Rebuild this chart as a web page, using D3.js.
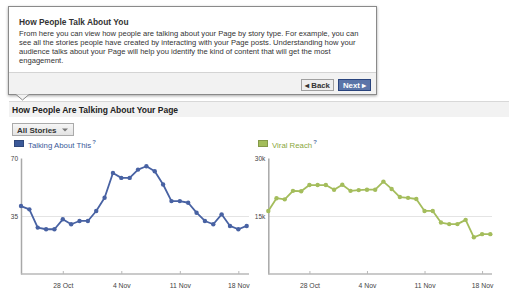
<!DOCTYPE html>
<html><head><meta charset="utf-8">
<script src="https://cdn.jsdelivr.net/npm/d3@7"></script>
<style>html,body{margin:0;padding:0;background:#fff;}svg{display:block;font-family:"Liberation Sans",Arial,sans-serif;}</style>
</head><body>
<script>
const dates = ["2012-10-23","2012-10-24","2012-10-25","2012-10-26","2012-10-27","2012-10-28","2012-10-29","2012-10-30","2012-10-31","2012-11-01","2012-11-02","2012-11-03","2012-11-04","2012-11-05","2012-11-06","2012-11-07","2012-11-08","2012-11-09","2012-11-10","2012-11-11","2012-11-12","2012-11-13","2012-11-14","2012-11-15","2012-11-16","2012-11-17","2012-11-18","2012-11-19"];
const talkingAboutThis = [41,39,28,27,27,33,30,32,32,38,46,61,58,58,63,65,62,54,44,44,43,37,32,30,36,29,27,29];
const viralReach = [16300,19600,19300,21500,21400,23000,23000,23000,21800,23100,21500,21700,21800,21800,23900,22000,19900,19700,19400,16300,16300,13300,12900,12900,14000,9500,10300,10300];
const tickDates = ["2012-10-28","2012-11-04","2012-11-11","2012-11-18"];
const tickLabels = ["28 Oct","4 Nov","11 Nov","18 Nov"];
const leftYTicks = [35,70];
const leftYLabels = ["35","70"];
const rightYTicks = [15000,30000];
const rightYLabels = ["15k","30k"];
const bodyLines = [
 "From here you can view how people are talking about your Page by story type. For example, you can",
 "see all the stories people have created by interacting with your Page posts. Understanding how your",
 "audience talks about your Page will help you identify the kind of content that will get the most",
 "engagement."
];

const W=520,H=296;
const svg=d3.select("body").append("svg").attr("width",W).attr("height",H);
svg.append("rect").attr("width",W).attr("height",H).attr("fill","#fff");

const defs=svg.append("defs");
const f=defs.append("filter").attr("id","sh").attr("x","-5%").attr("y","-10%").attr("width","110%").attr("height","130%");
f.append("feDropShadow").attr("dx",0).attr("dy",1).attr("stdDeviation",1.5).attr("flood-color","#000").attr("flood-opacity",0.35);
svg.append("rect").attr("x",8.5).attr("y",6.5).attr("width",368).attr("height",88).attr("fill","#fff").attr("stroke","#8a8a8a").attr("filter","url(#sh)");
svg.append("rect").attr("x",9).attr("y",73).attr("width",367).attr("height",21).attr("fill","#f2f2f2");
svg.append("line").attr("x1",9).attr("x2",376).attr("y1",72.5).attr("y2",72.5).attr("stroke","#d4d4d4");
svg.append("path").attr("d","M16,94.5 L22.5,100 L29,94.5").attr("fill","#f2f2f2").attr("stroke","#8a8a8a");
svg.append("rect").attr("x",16.5).attr("y",93).attr("width",12).attr("height",1.3).attr("fill","#f2f2f2");

svg.append("text").attr("x",19).attr("y",24.5).attr("font-size",8.4).attr("font-weight","bold").attr("fill","#333").text("How People Talk About You");
bodyLines.forEach((t,i)=>{
  svg.append("text").attr("x",19).attr("y",36+i*9).attr("font-size",7.6).attr("fill","#333").text(t);
});

svg.append("rect").attr("x",301.5).attr("y",79.5).attr("width",32).attr("height",11).attr("fill","#eeeeee").attr("stroke","#a0a0a0");
svg.append("text").attr("x",317.5).attr("y",88).attr("text-anchor","middle").attr("font-size",7.8).attr("font-weight","bold").attr("fill","#333").text("\u25C2 Back");
svg.append("rect").attr("x",338.5).attr("y",79.5).attr("width",32).attr("height",11).attr("fill","#5b74a8").attr("stroke","#29447e");
svg.append("text").attr("x",354.5).attr("y",88).attr("text-anchor","middle").attr("font-size",7.8).attr("font-weight","bold").attr("fill","#fff").text("Next \u25B8");

svg.append("rect").attr("x",9).attr("y",102).attr("width",500).attr("height",15).attr("fill","#f2f2f2");
svg.append("line").attr("x1",9).attr("x2",509).attr("y1",101.5).attr("y2",101.5).attr("stroke","#d8d8d8");
svg.append("text").attr("x",12).attr("y",113).attr("font-size",8.5).attr("font-weight","bold").attr("fill","#222").text("How People Are Talking About Your Page");

const g1=defs.append("linearGradient").attr("id","bg").attr("x1",0).attr("x2",0).attr("y1",0).attr("y2",1);
g1.append("stop").attr("offset","0").attr("stop-color","#f7f7f7");
g1.append("stop").attr("offset","1").attr("stop-color","#e2e2e2");
svg.append("rect").attr("x",12.5).attr("y",123.5).attr("width",61).attr("height",12).attr("fill","url(#bg)").attr("stroke","#aaa");
svg.append("text").attr("x",17).attr("y",132.5).attr("font-size",8).attr("font-weight","bold").attr("fill","#333").text("All Stories");
svg.append("path").attr("d","M62,128.5 L68,128.5 L65,131.5 Z").attr("fill","#777");

function legend(x,color,textColor,label){
  svg.append("rect").attr("x",x+0.5).attr("y",140.5).attr("width",9).attr("height",6).attr("fill",color).attr("stroke",d3.color(color).darker(0.6));
  const t=svg.append("text").attr("x",x+14).attr("y",148).attr("font-size",7.8).attr("fill",textColor).text(label);
  const w=t.node().getComputedTextLength();
  svg.append("text").attr("x",x+14+w+1).attr("y",144).attr("font-size",6).attr("font-weight","bold").attr("fill","#5b74a8").text("?");
}
legend(14,"#3b5998","#3b5998","Talking About This");
legend(258,"#a3bd5a","#8aa83c","Viral Reach");

const parse=d3.utcParse("%Y-%m-%d");
const dd=dates.map(parse);
const td=tickDates.map(parse);

function chart(x0,x1,xEnd,yMax,values,yTicks,yLabels,color){
  const x=d3.scaleUtc().domain([dd[0],dd[dd.length-1]]).range([x0,x1]);
  const y=d3.scaleLinear().domain([0,yMax]).range([274,158]);
  const g=svg.append("g");
  g.append("line").attr("x1",x0).attr("x2",xEnd).attr("y1",Math.round(y(yTicks[0]))+0.5).attr("y2",Math.round(y(yTicks[0]))+0.5).attr("stroke","#e4e4e4");
  const ya=d3.axisLeft(y).tickValues(yTicks).tickFormat((d,i)=>yLabels[i]).tickSize(0).tickPadding(3);
  const yg=g.append("g").attr("transform",`translate(${x0},0)`).call(ya);
  yg.select(".domain").attr("stroke","#a8a8a8").attr("stroke-width",1.5);
  yg.selectAll("text").attr("font-size",6.5).attr("fill","#444").attr("font-family","'Liberation Sans',Arial,sans-serif");
  const xa=d3.axisTop(x).tickValues(td).tickFormat((d,i)=>tickLabels[i]).tickSize(3).tickSizeOuter(0);
  const xg=g.append("g").attr("transform","translate(0,274)").call(xa);
  xg.select(".domain").attr("d",`M${x0},0H${xEnd}`).attr("stroke","#b8b8b8").attr("stroke-width",1.5);
  xg.selectAll(".tick line").attr("stroke","#b8b8b8");
  xg.selectAll("text").attr("y",14).attr("font-size",6.8).attr("fill","#444").attr("font-family","'Liberation Sans',Arial,sans-serif");
  const line=d3.line().x((d,i)=>x(dd[i])).y(d=>y(d));
  g.append("path").datum(values).attr("d",line).attr("fill","none").attr("stroke",color).attr("stroke-width",1.8).attr("stroke-linejoin","round");
  g.selectAll("circle.p").data(values).enter().append("circle").attr("cx",(d,i)=>x(dd[i])).attr("cy",d=>y(d)).attr("r",2.2).attr("fill",color);
}
chart(21,246.7,249,70,talkingAboutThis,leftYTicks,leftYLabels,"#4862a3");
chart(268.3,490.3,492,30000,viralReach,rightYTicks,rightYLabels,"#a4bd5c");
</script>
</body></html>
